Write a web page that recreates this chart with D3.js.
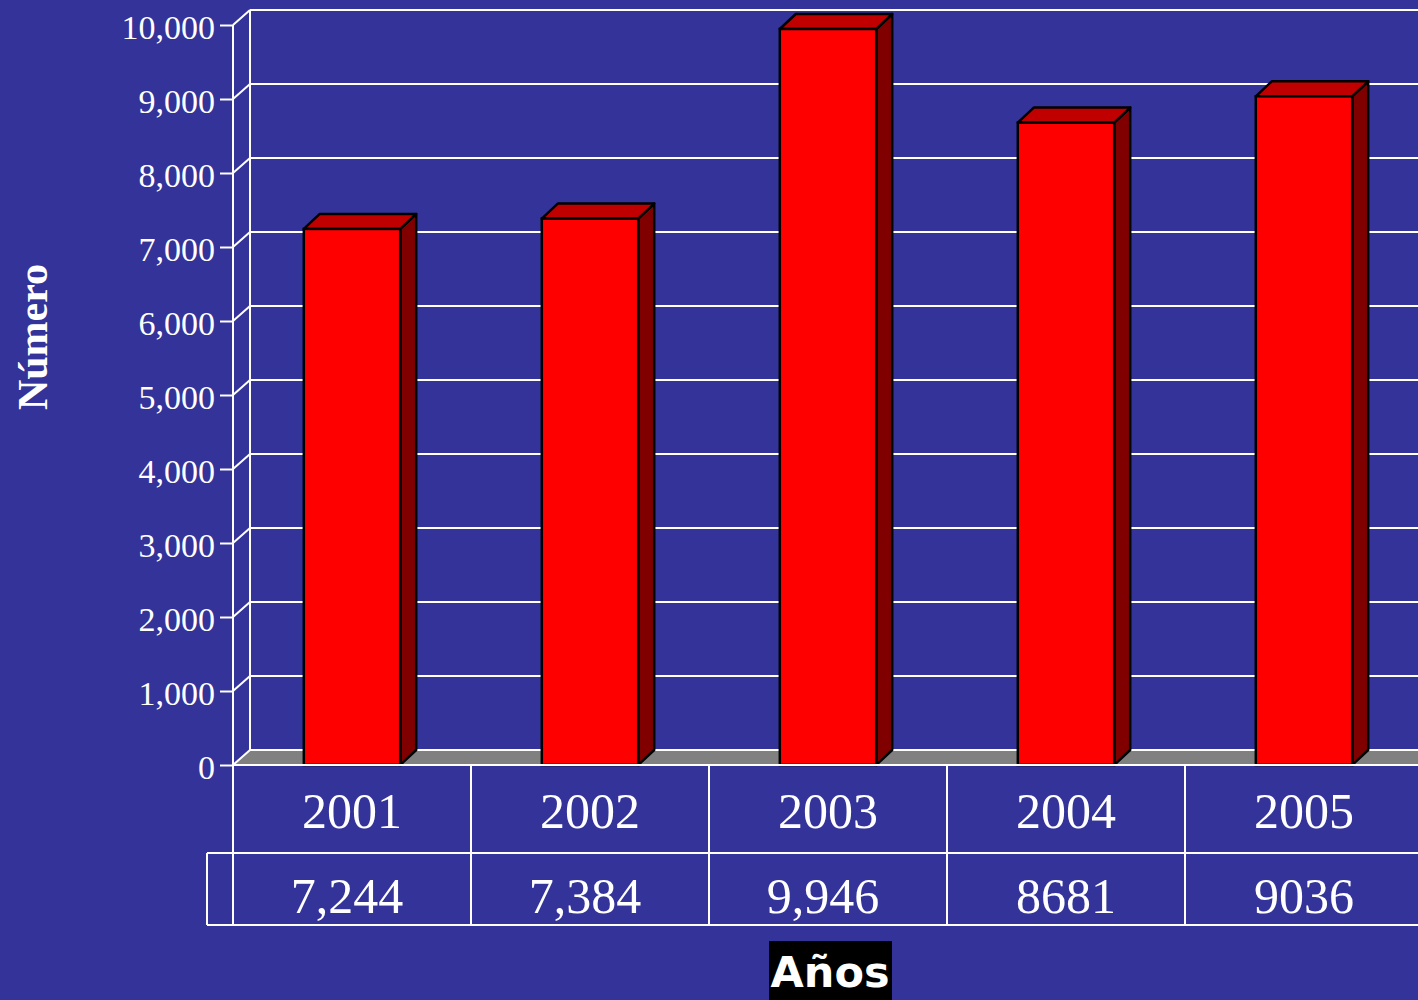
<!DOCTYPE html>
<html>
<head>
<meta charset="utf-8">
<script src="https://cdn.jsdelivr.net/npm/d3@7/dist/d3.min.js"></script>
<style>
  html, body { margin: 0; padding: 0; background: #333399; }
  svg { display: block; }
</style>
</head>
<body>
<script>
// Casos por año
const years = ["2001", "2002", "2003", "2004", "2005"];
const values = [7244, 7384, 9946, 8681, 9036];
const valueLabels = ["7,244", "7,384", "9,946", "8681", "9036"];
const yTicks = [0, 1000, 2000, 3000, 4000, 5000, 6000, 7000, 8000, 9000, 10000];

const W = 1418, H = 1000;
const BG = "#333399";
const DX = 17, DY = -15;        // depth of the wall / floor
const BDX = 16, BDY = -15;      // depth of each bar

const svg = d3.select("body").append("svg")
  .attr("width", W).attr("height", H);

svg.append("rect").attr("width", W).attr("height", H).attr("fill", BG);

const x = d3.scaleBand().domain(years).range([233, 1423]).padding(0);
const y = d3.scaleLinear().domain([0, 10000]).range([765, 25]);
const barW = x.bandwidth() * 0.405;

const fmt = d3.format(",");

// Back wall gridlines
svg.append("g").selectAll("line").data(yTicks).join("line")
  .attr("x1", 233 + DX).attr("x2", W)
  .attr("y1", d => y(d) + DY).attr("y2", d => y(d) + DY)
  .attr("stroke", "#fff").attr("stroke-width", 2);

// Left side wall: back edge, diagonals
svg.append("line")
  .attr("x1", 233 + DX).attr("x2", 233 + DX)
  .attr("y1", y(10000) + DY).attr("y2", y(0) + DY)
  .attr("stroke", "#fff").attr("stroke-width", 2);

// Floor
svg.append("path")
  .attr("d", `M233,${y(0)} L${233 + DX},${y(0) + DY} L${W},${y(0) + DY} L${W},${y(0)} Z`)
  .attr("fill", "#808080");
svg.append("line")
  .attr("x1", 233 + DX).attr("x2", W)
  .attr("y1", y(0) + DY).attr("y2", y(0) + DY)
  .attr("stroke", "#fff").attr("stroke-width", 2);

svg.append("g").selectAll("line").data(yTicks).join("line")
  .attr("x1", 233).attr("x2", 233 + DX)
  .attr("y1", d => y(d)).attr("y2", d => y(d) + DY)
  .attr("stroke", "#fff").attr("stroke-width", 2);

// Front value axis
const axis = svg.append("g").attr("transform", "translate(233,0)")
  .call(d3.axisLeft(y).tickValues(yTicks).tickFormat(fmt).tickSize(13).tickPadding(5));
axis.select(".domain").attr("stroke", "#fff").attr("stroke-width", 2)
  .attr("d", `M0,${y(10000)}V${y(0)}`);
axis.selectAll(".tick line").attr("stroke", "#fff").attr("stroke-width", 2);
axis.selectAll(".tick text")
  .attr("fill", "#fff")
  .attr("font-family", "'Liberation Serif', 'Times New Roman', serif")
  .attr("font-size", 34)
  .attr("dy", "0.4em");

// Bars
const bars = svg.append("g").selectAll("g").data(years).join("g");
bars.each(function (yr, i) {
  const g = d3.select(this);
  const x0 = x(yr) + (x.bandwidth() - barW) / 2;
  const x1 = x0 + barW;
  const yt = y(values[i]);
  const yb = y(0);
  // right side
  g.append("path")
    .attr("d", `M${x1},${yb} L${x1 + BDX},${yb + BDY} L${x1 + BDX},${yt + BDY} L${x1},${yt} Z`)
    .attr("fill", "#800000").attr("stroke", "#000").attr("stroke-width", 2.5)
    .attr("stroke-linejoin", "round");
  // top
  g.append("path")
    .attr("d", `M${x0},${yt} L${x0 + BDX},${yt + BDY} L${x1 + BDX},${yt + BDY} L${x1},${yt} Z`)
    .attr("fill", "#c00000").attr("stroke", "#000").attr("stroke-width", 2.5)
    .attr("stroke-linejoin", "round");
  // front
  g.append("rect")
    .attr("x", x0).attr("y", yt).attr("width", barW).attr("height", yb - yt)
    .attr("fill", "#ff0000").attr("stroke", "#000").attr("stroke-width", 2.5);
});

// Data table below the chart
const rowTop = 765, rowMid = 853, rowBot = 925;
const table = svg.append("g").attr("stroke", "#fff").attr("stroke-width", 2);
table.append("line").attr("x1", 233).attr("x2", W).attr("y1", rowTop).attr("y2", rowTop);
table.append("line").attr("x1", 207).attr("x2", W).attr("y1", rowMid).attr("y2", rowMid);
table.append("line").attr("x1", 207).attr("x2", W).attr("y1", rowBot).attr("y2", rowBot);
table.append("line").attr("x1", 207).attr("x2", 207).attr("y1", rowMid).attr("y2", rowBot);
table.selectAll(".col").data(years).join("line").attr("class", "col")
  .attr("x1", d => x(d)).attr("x2", d => x(d))
  .attr("y1", rowTop).attr("y2", rowBot);

const serif = "'Liberation Serif', 'Times New Roman', serif";
svg.append("g").selectAll("text").data(years).join("text")
  .attr("x", d => x(d) + x.bandwidth() / 2)
  .attr("y", 828)
  .attr("text-anchor", "middle")
  .attr("font-family", serif).attr("font-size", 50).attr("fill", "#fff")
  .text(d => d);
// labels with a thousands separator sit slightly left of the cell centre
svg.append("g").selectAll("text").data(valueLabels).join("text")
  .attr("x", (d, i) => x(years[i]) + x.bandwidth() / 2 - (d.includes(",") ? 5 : 0))
  .attr("y", 913)
  .attr("text-anchor", "middle")
  .attr("font-family", serif).attr("font-size", 50).attr("fill", "#fff")
  .text(d => d);

// Axis titles
svg.append("rect").attr("x", 769).attr("y", 941).attr("width", 123).attr("height", 59).attr("fill", "#000");
svg.append("text")
  .attr("x", 830).attr("y", 987)
  .attr("text-anchor", "middle")
  .attr("font-family", "'DejaVu Sans', Verdana, sans-serif")
  .attr("font-weight", "bold").attr("font-size", 43).attr("fill", "#fff")
  .text("Años");

svg.append("text")
  .attr("transform", "translate(47,337) rotate(-90)")
  .attr("text-anchor", "middle")
  .attr("font-family", serif)
  .attr("font-weight", "bold").attr("font-size", 42).attr("fill", "#fff")
  .text("Número");
</script>
</body>
</html>
